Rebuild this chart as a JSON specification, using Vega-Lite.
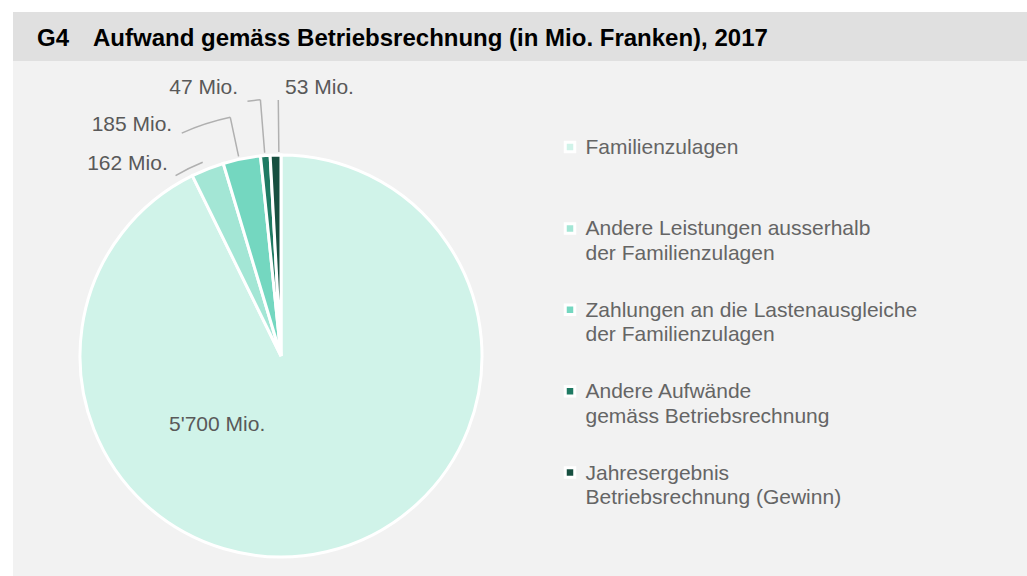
{
  "$schema": "https://vega.github.io/schema/vega-lite/v6.json",
  "background": "#f2f2f2",
  "padding": 0,
  "bounds": "flush",
  "spacing": 0,
  "config": {
    "view": {"stroke": null},
    "font": "Liberation Sans",
    "legend": {"padding": 0}
  },
  "datasets": {
    "aufwand": [
      {"Kategorie": "Familienzulagen", "Mio": 5700, "Beschriftung": "5'700 Mio."},
      {"Kategorie": "Andere Leistungen ausserhalb der Familienzulagen", "Mio": 162, "Beschriftung": "162 Mio."},
      {"Kategorie": "Zahlungen an die Lastenausgleiche der Familienzulagen", "Mio": 185, "Beschriftung": "185 Mio."},
      {"Kategorie": "Andere Aufwände gemäss Betriebsrechnung", "Mio": 47, "Beschriftung": "47 Mio."},
      {"Kategorie": "Jahresergebnis Betriebsrechnung (Gewinn)", "Mio": 53, "Beschriftung": "53 Mio."}
    ]
  },
  "vconcat": [
    {
      "width": 1027, "height": 12,
      "view": {"fill": "#ffffff", "stroke": null},
      "data": {"values": []},
      "mark": "point"
    },
    {
      "bounds": "flush",
      "spacing": 0,
      "hconcat": [
        {
          "width": 13, "height": 564,
          "view": {"fill": "#ffffff", "stroke": null},
          "data": {"values": []},
          "mark": "point"
        },
        {
          "bounds": "flush",
          "spacing": 75,
          "vconcat": [
            {
              "width": 1014, "height": 49,
              "view": {"fill": "#e0e0e0", "stroke": null},
              "title": {
                "text": "G4\u2002\u2002Aufwand gemäss Betriebsrechnung (in Mio. Franken), 2017",
                "anchor": "start", "frame": "group", "orient": "top",
                "baseline": "alphabetic", "offset": -34.5, "dx": 24, "dy": 23.5,
                "font": "Liberation Sans", "fontSize": 24, "fontWeight": "bold", "color": "#000000"
              },
              "data": {"values": []},
              "mark": "point"
            },
            {
              "width": 536, "height": 440,
              "data": {"name": "aufwand"},
              "transform": [
                {"stack": "Mio", "groupby": [], "as": ["v0", "v1"]}
              ],
              "layer": [
                {
                  "mark": {"type": "arc", "radius": 201, "stroke": "#ffffff", "strokeWidth": 3},
                  "encoding": {
                    "theta": {"field": "v0", "type": "quantitative", "stack": null, "scale": {"domain": [0, 6147], "zero": true}},
                    "theta2": {"field": "v1"},
                    "color": {
                      "field": "Kategorie", "type": "nominal",
                      "scale": {
                        "domain": ["Familienzulagen", "Andere Leistungen ausserhalb der Familienzulagen", "Zahlungen an die Lastenausgleiche der Familienzulagen", "Andere Aufwände gemäss Betriebsrechnung", "Jahresergebnis Betriebsrechnung (Gewinn)"],
                        "range": ["#d0f3e9", "#a3e6d5", "#74d7c0", "#1f7a63", "#174f40"]
                      },
                      "legend": {
                        "title": null, "orient": "none", "legendX": 559.5, "legendY": 136.5,
                        "symbolType": "square", "symbolSize": 90, "symbolStrokeColor": "#ffffff", "symbolStrokeWidth": 3, "symbolOpacity": 1,
                        "labelFont": "Liberation Sans", "labelFontSize": 21, "labelColor": "#656565",
                        "labelOffset": 5, "labelLimit": 500, "labelBaseline": "alphabetic",
                        "rowPadding": 34.4, "gridAlign": "all",
                        "labelExpr": "datum.label == 'Andere Leistungen ausserhalb der Familienzulagen' ? ['Andere Leistungen ausserhalb', 'der Familienzulagen'] : datum.label == 'Zahlungen an die Lastenausgleiche der Familienzulagen' ? ['Zahlungen an die Lastenausgleiche', 'der Familienzulagen'] : datum.label == 'Andere Aufwände gemäss Betriebsrechnung' ? ['Andere Aufwände', 'gemäss Betriebsrechnung'] : datum.label == 'Jahresergebnis Betriebsrechnung (Gewinn)' ? ['Jahresergebnis', 'Betriebsrechnung (Gewinn)'] : datum.label",
                        "encode": {"labels": {"update": {"dy": {"value": 7}, "lineHeight": {"value": 24.5}}}}
                      }
                    }
                  }
                },
                {
                  "transform": [{"filter": "datum.Kategorie == 'Andere Leistungen ausserhalb der Familienzulagen'"}],
                  "mark": {"type": "arc", "radius": 209, "radius2": 209, "fillOpacity": 0, "stroke": "#b0b0b0", "strokeWidth": 1.5, "thetaOffset": -0.0719, "theta2Offset": 0.0729},
                  "encoding": {
                    "theta": {"field": "v0", "type": "quantitative", "stack": null},
                    "theta2": {"field": "v0"}
                  }
                },
                {
                  "transform": [{"filter": "datum.Kategorie == 'Zahlungen an die Lastenausgleiche der Familienzulagen'"}],
                  "mark": {"type": "arc", "radius": 244, "radius2": 204, "fillOpacity": 0, "stroke": "#b0b0b0", "strokeWidth": 1.5, "thetaOffset": 0.0819, "theta2Offset": 0.0819},
                  "encoding": {
                    "theta": {"field": "v0", "type": "quantitative", "stack": null},
                    "theta2": {"field": "v0"}
                  }
                },
                {
                  "transform": [{"filter": "datum.Kategorie == 'Zahlungen an die Lastenausgleiche der Familienzulagen'"}],
                  "mark": {"type": "arc", "radius": 244, "radius2": 244, "fillOpacity": 0, "stroke": "#b0b0b0", "strokeWidth": 1.5, "thetaOffset": -0.1276, "theta2Offset": 0.0819},
                  "encoding": {
                    "theta": {"field": "v0", "type": "quantitative", "stack": null},
                    "theta2": {"field": "v0"}
                  }
                },
                {
                  "transform": [{"filter": "datum.Kategorie == 'Andere Aufwände gemäss Betriebsrechnung'"}],
                  "mark": {"type": "arc", "radius": 257, "radius2": 204, "fillOpacity": 0, "stroke": "#b0b0b0", "strokeWidth": 1.5, "thetaOffset": 0.022, "theta2Offset": 0.022},
                  "encoding": {
                    "theta": {"field": "v0", "type": "quantitative", "stack": null},
                    "theta2": {"field": "v0"}
                  }
                },
                {
                  "transform": [{"filter": "datum.Kategorie == 'Andere Aufwände gemäss Betriebsrechnung'"}],
                  "mark": {"type": "arc", "radius": 257, "radius2": 257, "fillOpacity": 0, "stroke": "#b0b0b0", "strokeWidth": 1.5, "thetaOffset": -0.0286, "theta2Offset": 0.022},
                  "encoding": {
                    "theta": {"field": "v0", "type": "quantitative", "stack": null},
                    "theta2": {"field": "v0"}
                  }
                },
                {
                  "transform": [{"filter": "datum.Kategorie == 'Jahresergebnis Betriebsrechnung (Gewinn)'"}],
                  "mark": {"type": "arc", "radius": 256, "radius2": 204, "fillOpacity": 0, "stroke": "#b0b0b0", "strokeWidth": 1.5, "thetaOffset": 0.0436, "theta2Offset": 0.0436},
                  "encoding": {
                    "theta": {"field": "v0", "type": "quantitative", "stack": null},
                    "theta2": {"field": "v0"}
                  }
                },
                {
                  "transform": [{"filter": "datum.Kategorie == 'Familienzulagen'"}],
                  "mark": {"type": "text", "radius": 94, "thetaOffset": 3.889, "align": "center", "baseline": "middle", "font": "Liberation Sans", "fontSize": 21, "color": "#595959"},
                  "encoding": {
                    "theta": {"field": "v0", "type": "quantitative", "stack": null},
                    "text": {"field": "Beschriftung"}
                  }
                },
                {
                  "transform": [{"filter": "datum.Kategorie == 'Andere Leistungen ausserhalb der Familienzulagen'"}],
                  "mark": {"type": "text", "radius": 218, "thetaOffset": -0.0894, "align": "right", "baseline": "alphabetic", "font": "Liberation Sans", "fontSize": 21, "color": "#595959"},
                  "encoding": {
                    "theta": {"field": "v0", "type": "quantitative", "stack": null},
                    "text": {"field": "Beschriftung"}
                  }
                },
                {
                  "transform": [{"filter": "datum.Kategorie == 'Zahlungen an die Lastenausgleiche der Familienzulagen'"}],
                  "mark": {"type": "text", "radius": 250, "thetaOffset": -0.159, "align": "right", "baseline": "alphabetic", "font": "Liberation Sans", "fontSize": 21, "color": "#595959"},
                  "encoding": {
                    "theta": {"field": "v0", "type": "quantitative", "stack": null},
                    "text": {"field": "Beschriftung"}
                  }
                },
                {
                  "transform": [{"filter": "datum.Kategorie == 'Andere Aufwände gemäss Betriebsrechnung'"}],
                  "mark": {"type": "text", "radius": 265.5, "thetaOffset": -0.06, "align": "right", "baseline": "alphabetic", "font": "Liberation Sans", "fontSize": 21, "color": "#595959"},
                  "encoding": {
                    "theta": {"field": "v0", "type": "quantitative", "stack": null},
                    "text": {"field": "Beschriftung"}
                  }
                },
                {
                  "transform": [{"filter": "datum.Kategorie == 'Jahresergebnis Betriebsrechnung (Gewinn)'"}],
                  "mark": {"type": "text", "radius": 262, "thetaOffset": 0.0698, "align": "left", "baseline": "alphabetic", "font": "Liberation Sans", "fontSize": 21, "color": "#595959"},
                  "encoding": {
                    "theta": {"field": "v0", "type": "quantitative", "stack": null},
                    "text": {"field": "Beschriftung"}
                  }
                }
              ]
            }
          ]
        }
      ]
    }
  ]
}
